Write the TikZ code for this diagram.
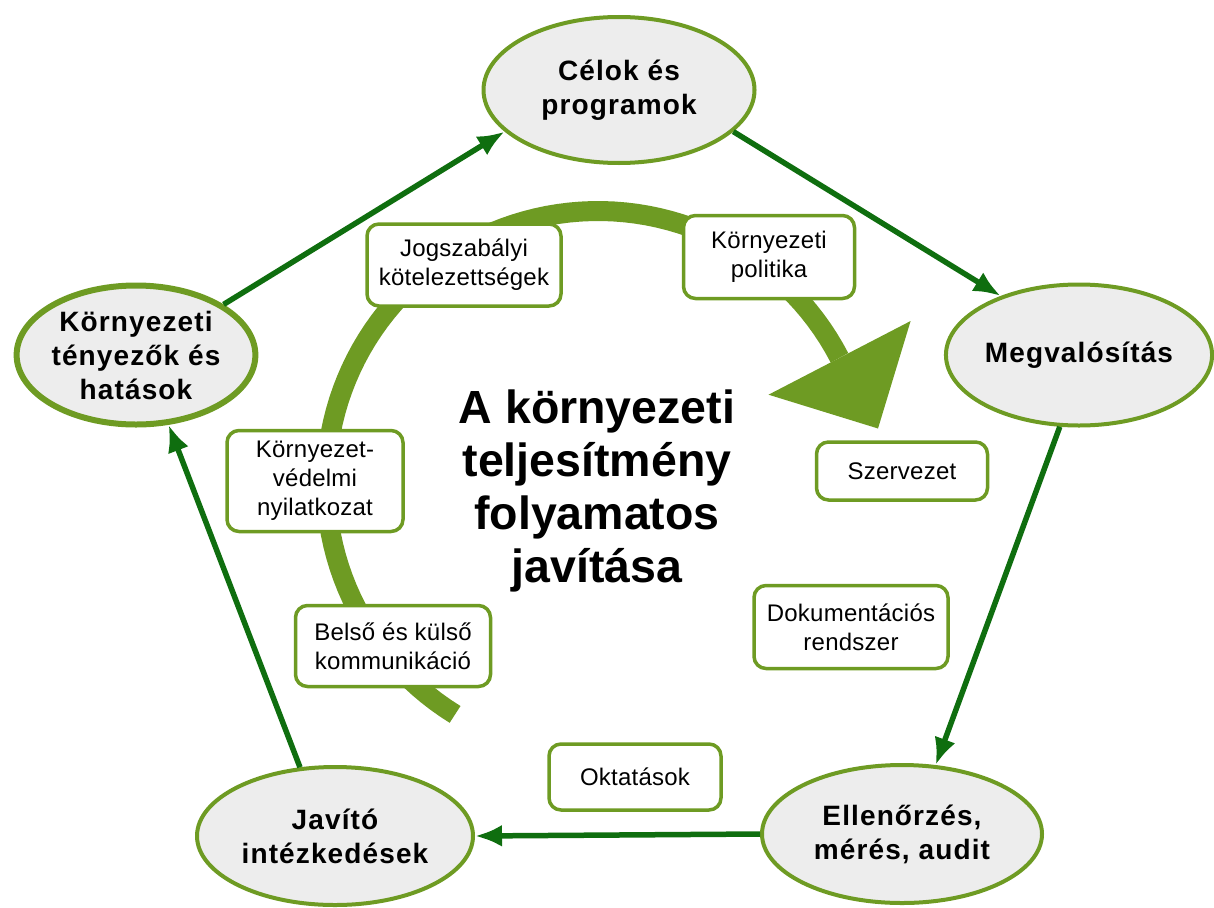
\documentclass[tikz,border=0pt]{standalone}
\usepackage{fontspec}
\setmainfont{Liberation Sans}
\usetikzlibrary{shapes,arrows.meta}
\definecolor{olivegreen}{RGB}{110,155,35}
\definecolor{arrowgreen}{RGB}{15,110,15}
\definecolor{ellfill}{RGB}{237,237,237}

\begin{document}
\begin{tikzpicture}[x=1pt, y=-1pt,
				phase/.style={ellipse, draw=olivegreen, line width=4pt, fill=ellfill, inner sep=0pt, align=center,
					font=\bfseries\fontsize{28}{34}\selectfont\addfontfeatures{LetterSpace=4}},
				tool/.style={rectangle, rounded corners=12pt, draw=olivegreen, line width=3.5pt, fill=white,
					inner sep=0pt, align=center, font=\fontsize{24}{29}\selectfont\addfontfeatures{LetterSpace=1}},
				flow/.style={->, draw=arrowgreen, fill=arrowgreen, line width=5.5pt},
				>={Latex[length=27pt,width=22pt]}]   %Pfeilspitzen
				\useasboundingbox (0,0) rectangle (1214,907);
				% grosser Bogen mit Pfeilspitze
				\draw[olivegreen, line width=20pt, domain=121.7:332.6, samples=90] plot ({598+272*cos(\x)}, {483+272*sin(\x)});
				\fill[olivegreen] (768.5,394.7) -- (910.6,321) -- (878,428.5) -- cycle;
				% Phasen
				\node[phase, minimum width=271pt, minimum height=146pt] (celok) at (619,90) {Célok és\\programok};
				\node[phase, minimum width=266pt, minimum height=141pt] (megval) at (1079,355) {Megvalósítás};
				\node[phase, minimum width=280pt, minimum height=138pt] (ellenorzes) at (902,834) {Ellenőrzés,\\mérés, audit};
				\node[phase, minimum width=276pt, minimum height=138pt] (javito) at (335,836) {Javító\\intézkedések};
				\node[phase, line width=6pt, minimum width=237pt, minimum height=139pt] (tenyezok) at (136,355) {Környezeti\\tényezők és\\hatások};
				% Elemen
				\node[tool, minimum width=194pt, minimum height=82pt] (jogszab) at (464,265) {Jogszabályi\\kötelezettségek};
				\node[tool, minimum width=171pt, minimum height=83pt] (politika) at (769,257) {Környezeti\\politika};
				\node[tool, minimum width=171pt, minimum height=58pt] (szervezet) at (902,471) {Szervezet};
				\node[tool, minimum width=176pt, minimum height=101pt] (nyilatk) at (315,481) {Környezet-\\védelmi\\nyilatkozat};
				\node[tool, minimum width=195pt, minimum height=81pt] (kommun) at (393,646) {Belső és külső\\kommunikáció};
				\node[tool, minimum width=194pt, minimum height=83pt] (dokum) at (851,627) {Dokumentációs\\rendszer};
				\node[tool, minimum width=172pt, minimum height=66pt] (oktatas) at (635,777) {Oktatások};
				% Titel
				\node[align=center, font=\bfseries\fontsize{46.5}{53.3}\selectfont] (titel) at (597,491) {A környezeti\\teljesítmény\\folyamatos\\javítása};
				% Pfeile
				\draw[flow] (tenyezok.30) -- (celok.200);
				\draw[flow] (celok.340) -- (megval.143);
				\draw[flow] (megval.255) -- (ellenorzes.64);
				\draw[flow] (ellenorzes.west) -- (javito.east);
				\draw[flow] (javito.117) -- (tenyezok.295);
\end{tikzpicture}
\end{document}
